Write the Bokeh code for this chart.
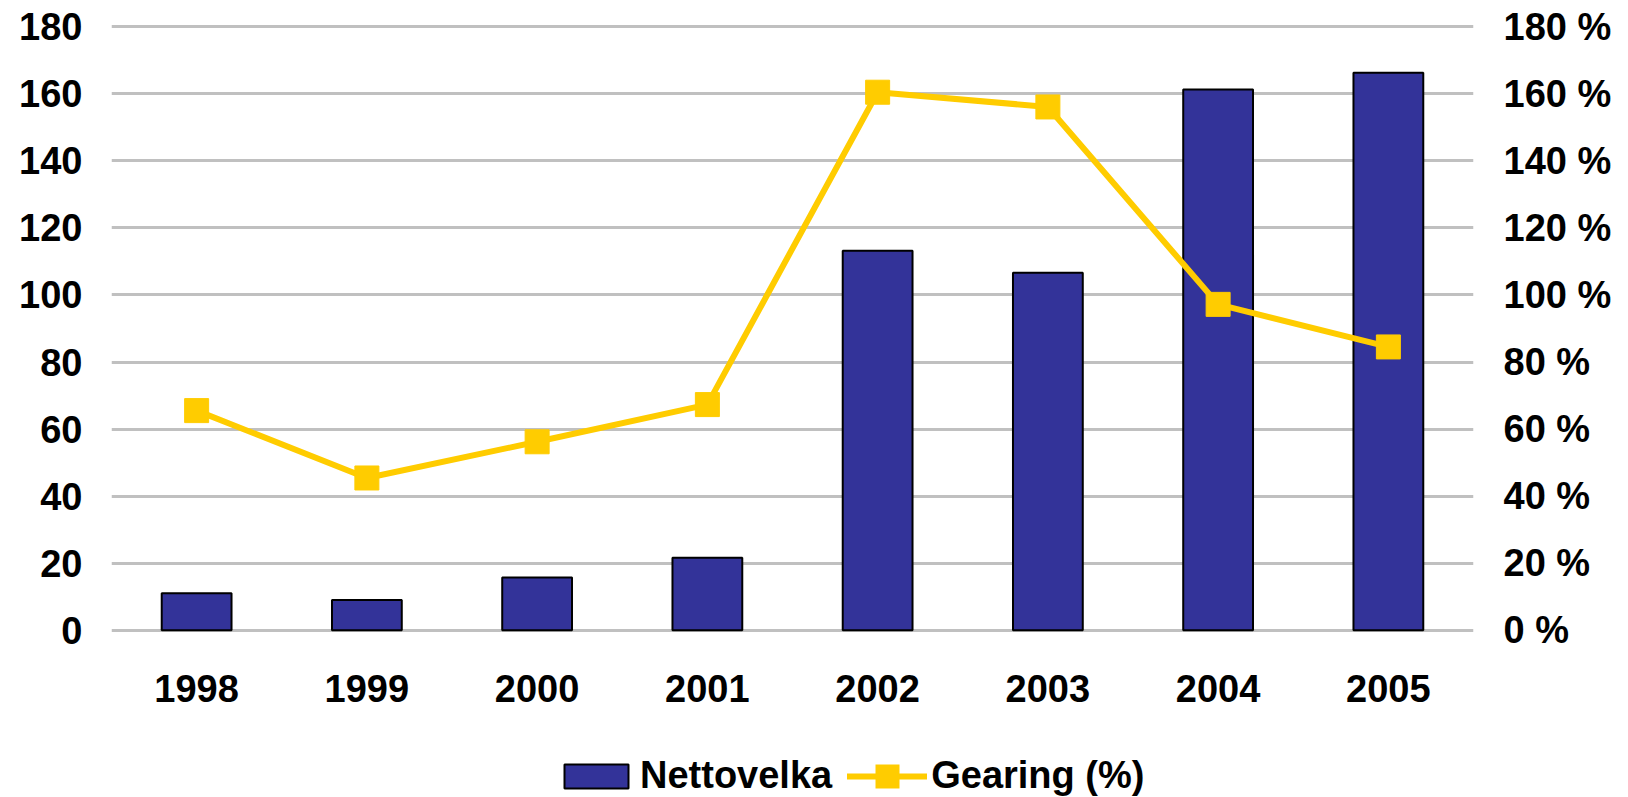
from bokeh.plotting import figure
from bokeh.layouts import column
from bokeh.models import (FactorRange, Range1d, LinearAxis, FixedTicker,
                          PrintfTickFormatter, Legend, LegendItem)
from bokeh.embed import file_html
from bokeh.resources import INLINE

years = ["1998", "1999", "2000", "2001", "2002", "2003", "2004", "2005"]
nettovelka = [11.0, 9.0, 15.7, 21.6, 113.2, 106.6, 161.3, 166.3]
gearing = [65.5, 45.4, 56.2, 67.3, 160.5, 156.1, 97.2, 84.5]
left_ticks = [0, 20, 40, 60, 80, 100, 120, 140, 160, 180]
right_ticks = [0, 20, 40, 60, 80, 100, 120, 140, 160, 180]
series_names = ["Nettovelka", "Gearing (%)"]

FONT = "Liberation Sans"
FS = "38px"
BAR = "#333399"
GOLD = "#FFCC00"

p = figure(x_range=FactorRange(*years, range_padding=0),
           y_range=Range1d(-1, 181),
           width=1628, height=737,
           output_backend="svg", toolbar_location=None,
           min_border_left=111, min_border_right=155,
           min_border_top=23, min_border_bottom=104)
p.extra_y_ranges = {"pct": Range1d(-1, 181)}
p.outline_line_color = None

p.vbar(x=years, top=nettovelka, width=0.41, fill_color=BAR,
       line_color="black", line_width=2)
p.line(x=years, y=gearing, y_range_name="pct", line_color=GOLD, line_width=6,
       line_join="round")
p.scatter(x=years, y=gearing, y_range_name="pct", marker="square",
          size=24, fill_color=GOLD, line_color=GOLD)

p.xgrid.grid_line_color = None
p.ygrid.grid_line_color = "#C0C0C0"
p.ygrid.grid_line_width = 3
p.ygrid.ticker = FixedTicker(ticks=left_ticks)

def style_axis(ax, standoff):
    ax.axis_line_color = None
    ax.major_tick_line_color = None
    ax.minor_tick_line_color = None
    ax.major_tick_out = 0
    ax.major_tick_in = 0
    ax.major_label_text_font = FONT
    ax.major_label_text_font_style = "bold"
    ax.major_label_text_font_size = FS
    ax.major_label_text_color = "black"
    ax.major_label_standoff = standoff

p.yaxis.ticker = FixedTicker(ticks=left_ticks)
style_axis(p.yaxis[0], 29)
style_axis(p.xaxis[0], 41)

raxis = LinearAxis(y_range_name="pct", ticker=FixedTicker(ticks=right_ticks),
                   formatter=PrintfTickFormatter(format="%d %%"))
style_axis(raxis, 30)
p.add_layout(raxis, "right")

# legend strip: same series, placed outside its visible y range so that only
# the legend entries show
lg = figure(width=1628, height=60, x_range=FactorRange(*years),
            y_range=Range1d(1000, 1001),
            x_axis_location=None, y_axis_location=None,
            output_backend="svg", toolbar_location=None,
            min_border=0, min_border_left=0, min_border_right=0,
            min_border_top=0, min_border_bottom=0)
lg.grid.visible = False
lg.outline_line_color = None
r_bar = lg.vbar(x=years, top=nettovelka, width=0, fill_color=BAR,
                line_color="black", line_width=2)
r_line = lg.line(x=years, y=gearing, line_color=GOLD, line_width=6,
                 line_cap="round")
r_sq = lg.scatter(x=years, y=gearing, marker="square", size=24,
                  fill_color=GOLD, line_color=GOLD, line_width=12,
                  line_join="miter")

legend = Legend(items=[LegendItem(label=series_names[0], renderers=[r_bar]),
                       LegendItem(label=series_names[1], renderers=[r_line, r_sq])],
                orientation="horizontal", location=(445, 0),
                glyph_width=80, glyph_height=30, label_standoff=4, spacing=15,
                padding=0, margin=0, border_line_color=None,
                background_fill_alpha=0,
                label_text_font=FONT, label_text_font_style="bold",
                label_text_font_size=FS, label_text_color="black")
lg.add_layout(legend, "center")

layout = column(p, lg, spacing=0)
open("out.html", "w").write(file_html(layout, INLINE))
